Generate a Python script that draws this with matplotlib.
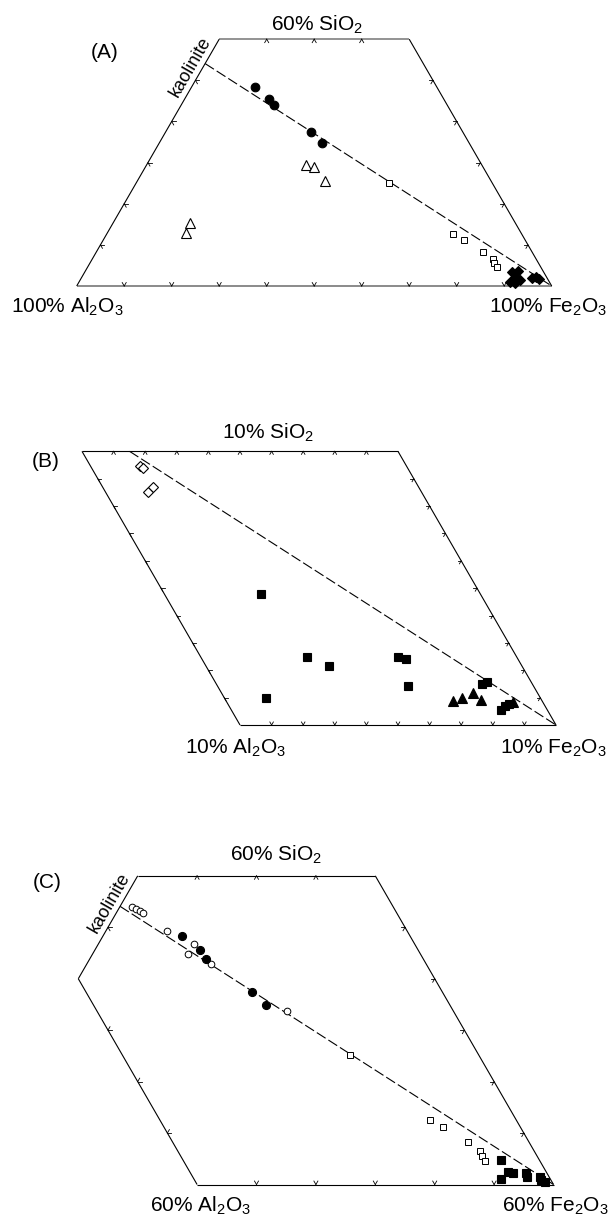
import numpy as np
import matplotlib.pyplot as plt

plt.rcParams['font.family'] = ['Liberation Sans', 'DejaVu Sans']
plt.rcParams['mathtext.fontset'] = 'custom'
plt.rcParams['mathtext.rm'] = 'Liberation Sans'
plt.rcParams['mathtext.it'] = 'Liberation Sans:italic'
plt.rcParams['mathtext.bf'] = 'Liberation Sans:bold'
plt.rcParams['lines.scale_dashes'] = False

# -------- data (wt %, SiO2 / Al2O3 / Fe2O3) --------
kaol_sio2, kaol_al2o3 = 46.5, 39.5

# filled circles (panels A and C)
circ_sio2 = [48.3, 45.5, 43.9, 37.4, 34.8]
circ_al2o3 = [38.4, 36.7, 36.5, 32.0, 31.0]
circ_fe2o3 = [13.3, 17.8, 19.6, 30.6, 34.2]

# open squares (panels A and C)
osq_sio2 = [25.1, 12.6, 11.1, 8.2, 6.6, 5.5, 4.5]
osq_al2o3 = [21.7, 14.5, 13.0, 10.3, 9.1, 9.3, 9.2]
osq_fe2o3 = [53.2, 72.9, 75.9, 81.5, 84.3, 85.2, 86.3]

# panel A: open triangles
tri_a_sio2 = [29.3, 28.9, 25.5, 15.4, 12.8]
tri_a_al2o3 = [37.0, 35.5, 35.0, 68.4, 70.6]
tri_a_fe2o3 = [33.7, 35.6, 39.5, 16.2, 16.6]

# panel A: filled diamonds
dia_a_sio2 = [3.5, 3.7, 2.1, 1.0, 1.5, 0.7, 1.9, 2.1, 1.6]
dia_a_al2o3 = [6.7, 5.2, 6.7, 8.3, 5.9, 7.4, 3.3, 2.2, 1.8]
dia_a_fe2o3 = [89.8, 91.1, 91.2, 90.7, 92.6, 91.9, 94.8, 95.7, 96.6]

# panel B: open diamonds
dia_b_sio2 = [9.46, 9.39, 8.53, 8.69]
dia_b_al2o3 = [8.42, 8.37, 8.64, 8.40]
dia_b_fe2o3 = [82.12, 82.24, 82.83, 82.91]

# panel B: filled squares
sq_b_sio2 = [4.78, 2.50, 2.16, 2.50, 2.40, 1.43, 0.98, 1.49, 1.58, 0.55, 0.68, 0.77]
sq_b_al2o3 = [6.95, 6.62, 6.11, 3.74, 3.54, 3.97, 8.70, 1.61, 1.38, 1.48, 1.28, 1.10]
sq_b_fe2o3 = [88.27, 90.88, 91.73, 93.76, 94.06, 94.60, 90.32, 96.90, 97.04, 97.97, 98.04, 98.13]

# panel B: filled triangles
tri_b_sio2 = [0.89, 0.98, 1.16, 0.91, 0.84]
tri_b_al2o3 = [2.81, 2.47, 2.06, 1.93, 0.94]
tri_b_fe2o3 = [96.30, 96.55, 96.78, 97.16, 98.22]

# panel C: open circles
oc_sio2 = [54.0, 53.5, 53.2, 52.7, 49.3, 46.7, 44.8, 42.8, 33.7]
oc_al2o3 = [44.0, 43.5, 43.0, 42.7, 40.4, 37.2, 39.1, 36.2, 28.0]
oc_fe2o3 = [2.0, 3.0, 3.8, 4.6, 10.3, 16.1, 16.1, 21.0, 38.3]

# panel C: filled squares
sq_c_sio2 = [4.8, 1.0, 2.5, 2.3, 2.3, 1.4, 1.5, 0.9, 0.4]
sq_c_al2o3 = [6.5, 8.4, 6.4, 5.7, 3.5, 3.7, 1.5, 1.6, 1.2]
sq_c_fe2o3 = [88.7, 90.6, 91.1, 92.0, 94.2, 94.9, 97.0, 97.5, 98.4]

W, H = 609, 1217
R3 = np.sqrt(3) / 2


def tern(si, al, fe):
    si, al, fe = (np.asarray(v, float) for v in (si, al, fe))
    tot = si + al + fe
    return (fe + si / 2) / tot, si / tot * R3


def panel(top, bottom, fe_corner, scale):
    ax = fig.add_axes([0, 1 - bottom / H, 1, (bottom - top) / H])
    fx, fy = fe_corner
    ax.set_xlim(1 - fx / scale, 1 + (W - fx) / scale)
    ax.set_ylim((fy - bottom) / scale, (fy - top) / scale)
    ax.axis('off')
    return ax


def frame(ax, corners, colors, widths):
    n = len(corners)
    for i in range(n):
        a, b = corners[i], corners[(i + 1) % n]
        x, y = tern([a[0], b[0]], [a[1], b[1]], [a[2], b[2]])
        ax.plot(x, y, color=colors[i], lw=widths[i], solid_capstyle='butt', zorder=2)


def ticks(ax, si, al, fe, angles, length):
    x, y = tern(si, al, fe)
    for xi, yi in zip(x, y):
        for ang in angles:
            t = np.radians(ang)
            ax.plot([xi, xi + length * np.cos(t)], [yi, yi + length * np.sin(t)],
                    color='k', lw=0.6, zorder=2)


def kaolinite_line(ax, max_sio2):
    # mixing line kaolinite -> pure Fe2O3, cut where SiO2 reaches max_sio2
    k = kaol_sio2 / (kaol_sio2 + kaol_al2o3)
    t = np.array([min(1.0, max_sio2 / (100 * k)), 0.0])
    si = 100 * k * t
    al = 100 * (1 - k) * t
    ax.plot(*tern(si, al, 100 * (1 - t)), color='k', lw=0.8, dashes=(7.5, 2.4), zorder=2)


def pts(ax, si, al, fe, marker, ms, filled, mew=0.8):
    x, y = tern(si, al, fe)
    ax.plot(x, y, linestyle='none', marker=marker, markersize=ms,
            markerfacecolor='k' if filled else 'white', markeredgecolor='k',
            markeredgewidth=mew, zorder=3)


def label(x, y, s, size=15, rot=0):
    fig.text(x / W, 1 - y / H, s, ha='center', va='center', fontsize=size,
             rotation=rot, rotation_mode='anchor')


fig = plt.figure(figsize=(W / 100, H / 100), dpi=100)

# -------- (A) --------
sa = 475
ax = panel(0, 340, (551.7, 286), sa)
frame(ax, [(0, 100, 0), (0, 0, 100), (60, 0, 40), (60, 40, 0)],
      ['#8a8a8a', 'k', '#8a8a8a', 'k'], [1.4, 0.8, 1.3, 0.8])
L = 4 / sa
ticks(ax, [0] * 9, [100 - f for f in range(10, 100, 10)], list(range(10, 100, 10)), [60, 120], L)
ticks(ax, [60] * 3, [40 - f for f in (10, 20, 30)], [10, 20, 30], [240, 300], L)
ticks(ax, [10, 20, 30, 40, 50], [90, 80, 70, 60, 50], [0] * 5, [0, 300], L)
ticks(ax, [10, 20, 30, 40, 50], [0] * 5, [90, 80, 70, 60, 50], [180, 240], L)
kaolinite_line(ax, 100)
pts(ax, tri_a_sio2, tri_a_al2o3, tri_a_fe2o3, '^', 6.5, False)
pts(ax, osq_sio2, osq_al2o3, osq_fe2o3, 's', 4.5, False, 0.7)
pts(ax, circ_sio2, circ_al2o3, circ_fe2o3, 'o', 6.2, True)
pts(ax, dia_a_sio2, dia_a_al2o3, dia_a_fe2o3, 'D', 5.2, True)

label(105, 52, '(A)')
label(317, 25, '60% SiO$_2$')
label(67, 307, '100% Al$_2$O$_3$')
label(548, 307, '100% Fe$_2$O$_3$')
label(190.8, 66.7, 'kaolinite', 13, 60)

# -------- (B) --------
sb = 3160
ax = panel(395, 800, (556, 725), sb)
frame(ax, [(0, 10, 90), (0, 0, 100), (10, 0, 90), (10, 10, 80)],
      ['k', 'k', 'k', 'k'], [0.8, 0.8, 0.8, 0.8])
L = 3.5 / sb
one = list(range(1, 10))
ticks(ax, [0] * 9, [10 - f for f in one], [90 + f for f in one], [60, 120], L)
ticks(ax, [10] * 9, [10 - f for f in one], [80 + f for f in one], [240, 300], L)
ticks(ax, one, [10] * 9, [90 - f for f in one], [0, 300], L)
ticks(ax, one, [0] * 9, [100 - f for f in one], [180, 240], L)
kaolinite_line(ax, 10)
pts(ax, dia_b_sio2, dia_b_al2o3, dia_b_fe2o3, 'D', 5.3, False)
pts(ax, sq_b_sio2, sq_b_al2o3, sq_b_fe2o3, 's', 5.5, True)
pts(ax, tri_b_sio2, tri_b_al2o3, tri_b_fe2o3, '^', 6.5, True)

label(45.7, 461.7, '(B)')
label(267.5, 432.5, '10% SiO$_2$')
label(235.4, 748, '10% Al$_2$O$_3$')
label(553.6, 748, '10% Fe$_2$O$_3$')

# -------- (C) --------
sc = 594
ax = panel(820, 1217, (553.5, 1184.5), sc)
frame(ax, [(0, 60, 40), (0, 0, 100), (60, 0, 40), (60, 40, 0), (40, 60, 0)],
      ['k'] * 5, [0.8] * 5)
L = 4 / sc
ticks(ax, [0] * 5, [50, 40, 30, 20, 10], [50, 60, 70, 80, 90], [60, 120], L)
ticks(ax, [60] * 3, [30, 20, 10], [10, 20, 30], [240, 300], L)
ticks(ax, [50], [50], [0], [0, 300], L)
ticks(ax, [10, 20, 30], [60] * 3, [30, 20, 10], [0, 60], L)
ticks(ax, [10, 20, 30, 40, 50], [0] * 5, [90, 80, 70, 60, 50], [180, 240], L)
kaolinite_line(ax, 100)
pts(ax, oc_sio2, oc_al2o3, oc_fe2o3, 'o', 4.8, False, 0.7)
pts(ax, osq_sio2, osq_al2o3, osq_fe2o3, 's', 4.5, False, 0.7)
pts(ax, circ_sio2, circ_al2o3, circ_fe2o3, 'o', 5.8, True)
pts(ax, sq_c_sio2, sq_c_al2o3, sq_c_fe2o3, 's', 5.5, True)

label(47, 883, '(C)')
label(276, 855, '60% SiO$_2$')
label(200.5, 1206, '60% Al$_2$O$_3$')
label(555, 1206, '60% Fe$_2$O$_3$')
label(109.2, 903.3, 'kaolinite', 13, 60)

fig.savefig('out.png', dpi=100)
